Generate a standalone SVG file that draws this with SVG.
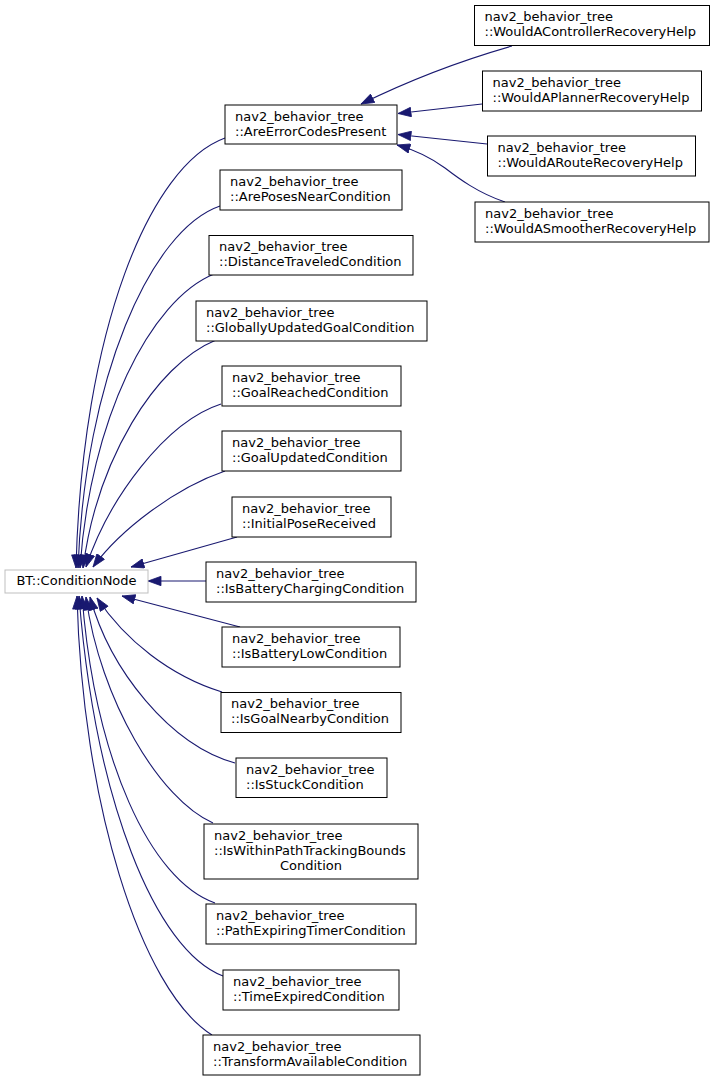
<svg xmlns="http://www.w3.org/2000/svg" width="715" height="1081" viewBox="0 0 715 1081">
<style>
.n rect{fill:#fff;stroke:#000;stroke-width:1}
.root rect{fill:#fff;stroke:#bfbfbf;stroke-width:1}
text{font-family:"DejaVu Sans","Liberation Sans",sans-serif;font-size:13px;fill:#000}
.e path{fill:none;stroke:#191970;stroke-width:1.1;marker-end:url(#ah)}
</style>
<defs>
<marker id="ah" markerUnits="userSpaceOnUse" markerWidth="14" markerHeight="10" viewBox="0 0 13 10" refX="13" refY="5" orient="auto">
<path d="M0,0.3 L13,5 L0,9.7 z" fill="#191970" stroke="#191970" stroke-width="0.8"/>
</marker>
</defs>
<rect width="715" height="1081" fill="#fff"/>
<g class="e" id="edges">
<path d="M225,138 C150,165 82,330 76,568"/>
<path d="M220,206 C150,230 85,380 78,568"/>
<path d="M214,274 C150,300 90,420 80,568"/>
<path d="M216,340 C155,365 97,460 83,568"/>
<path d="M221,404 C165,422 108,500 86,567"/>
<path d="M225,471 C175,488 120,530 93,567"/>
<path d="M237,537 L131,567"/>
<path d="M206,581 L148,581"/>
<path d="M240,627 L122,596"/>
<path d="M222,692 C170,676 125,640 97,598"/>
<path d="M235,763 C170,745 110,670 90,597"/>
<path d="M213,823 C160,800 100,700 86,597"/>
<path d="M215,903 C150,880 95,760 82,596"/>
<path d="M223,976 C155,950 95,800 79,596"/>
<path d="M212,1035 C140,990 82,800 77,596"/>
<path d="M512,46 C470,58 420,75 361,104"/>
<path d="M482,104 L398,113.5"/>
<path d="M487,144 L398,134.5"/>
<path d="M505,202 C478,193 458,178 445,168 C430,157 415,150 397,145"/>
</g>
<g class="root" id="n_root"><rect x="5" y="570" width="143" height="23"/><text x="76.5" y="585" text-anchor="middle">BT::ConditionNode</text></g>
<g class="n" id="n_areerr"><rect x="225" y="105" width="172" height="39"/><text x="235" y="120.5">nav2_behavior_tree</text><text x="235" y="135.5">::AreErrorCodesPresent</text></g>
<g class="n" id="n_ctrl"><rect x="474.5" y="5.5" width="235" height="40"/><text x="484.5" y="21">nav2_behavior_tree</text><text x="484.5" y="36">::WouldAControllerRecoveryHelp</text></g>
<g class="n" id="n_plan"><rect x="482.5" y="71" width="219" height="40"/><text x="492.5" y="86.5">nav2_behavior_tree</text><text x="492.5" y="101.5">::WouldAPlannerRecoveryHelp</text></g>
<g class="n" id="n_route"><rect x="487.5" y="136" width="208" height="40"/><text x="497.5" y="151.5">nav2_behavior_tree</text><text x="497.5" y="166.5">::WouldARouteRecoveryHelp</text></g>
<g class="n" id="n_smooth"><rect x="475" y="202" width="234" height="40"/><text x="485" y="217.5">nav2_behavior_tree</text><text x="485" y="232.5">::WouldASmootherRecoveryHelp</text></g>
<g class="n" id="n_poses"><rect x="220" y="170" width="182" height="40"/><text x="230" y="185.5">nav2_behavior_tree</text><text x="230" y="200.5">::ArePosesNearCondition</text></g>
<g class="n" id="n_dist"><rect x="209" y="235.5" width="204" height="39.5"/><text x="219" y="251">nav2_behavior_tree</text><text x="219" y="266">::DistanceTraveledCondition</text></g>
<g class="n" id="n_glob"><rect x="196" y="301" width="231" height="40"/><text x="206" y="316.5">nav2_behavior_tree</text><text x="206" y="331.5">::GloballyUpdatedGoalCondition</text></g>
<g class="n" id="n_reached"><rect x="222" y="366" width="179" height="40"/><text x="232" y="381.5">nav2_behavior_tree</text><text x="232" y="396.5">::GoalReachedCondition</text></g>
<g class="n" id="n_updated"><rect x="222" y="431" width="179" height="40"/><text x="232" y="446.5">nav2_behavior_tree</text><text x="232" y="461.5">::GoalUpdatedCondition</text></g>
<g class="n" id="n_init"><rect x="232" y="497" width="159" height="40"/><text x="242" y="512.5">nav2_behavior_tree</text><text x="242" y="527.5">::InitialPoseReceived</text></g>
<g class="n" id="n_charging"><rect x="206" y="562" width="210" height="40"/><text x="216" y="577.5">nav2_behavior_tree</text><text x="216" y="592.5">::IsBatteryChargingCondition</text></g>
<g class="n" id="n_low"><rect x="222" y="627" width="178" height="40"/><text x="232" y="642.5">nav2_behavior_tree</text><text x="232" y="657.5">::IsBatteryLowCondition</text></g>
<g class="n" id="n_nearby"><rect x="221" y="692.5" width="180" height="40"/><text x="231" y="708">nav2_behavior_tree</text><text x="231" y="723">::IsGoalNearbyCondition</text></g>
<g class="n" id="n_stuck"><rect x="236" y="758" width="151" height="39.5"/><text x="246" y="773.5">nav2_behavior_tree</text><text x="246" y="788.5">::IsStuckCondition</text></g>
<g class="n" id="n_within"><rect x="204" y="824" width="214" height="55"/><text x="214" y="839.5">nav2_behavior_tree</text><text x="214" y="854.5">::IsWithinPathTrackingBounds</text><text x="311" y="869.5" text-anchor="middle">Condition</text></g>
<g class="n" id="n_pathexp"><rect x="206" y="904" width="210" height="40"/><text x="216" y="919.5">nav2_behavior_tree</text><text x="216" y="934.5">::PathExpiringTimerCondition</text></g>
<g class="n" id="n_timeexp"><rect x="223" y="970" width="176" height="40"/><text x="233" y="985.5">nav2_behavior_tree</text><text x="233" y="1000.5">::TimeExpiredCondition</text></g>
<g class="n" id="n_transform"><rect x="203" y="1035" width="217" height="40"/><text x="213" y="1050.5">nav2_behavior_tree</text><text x="213" y="1065.5">::TransformAvailableCondition</text></g>
</svg>
